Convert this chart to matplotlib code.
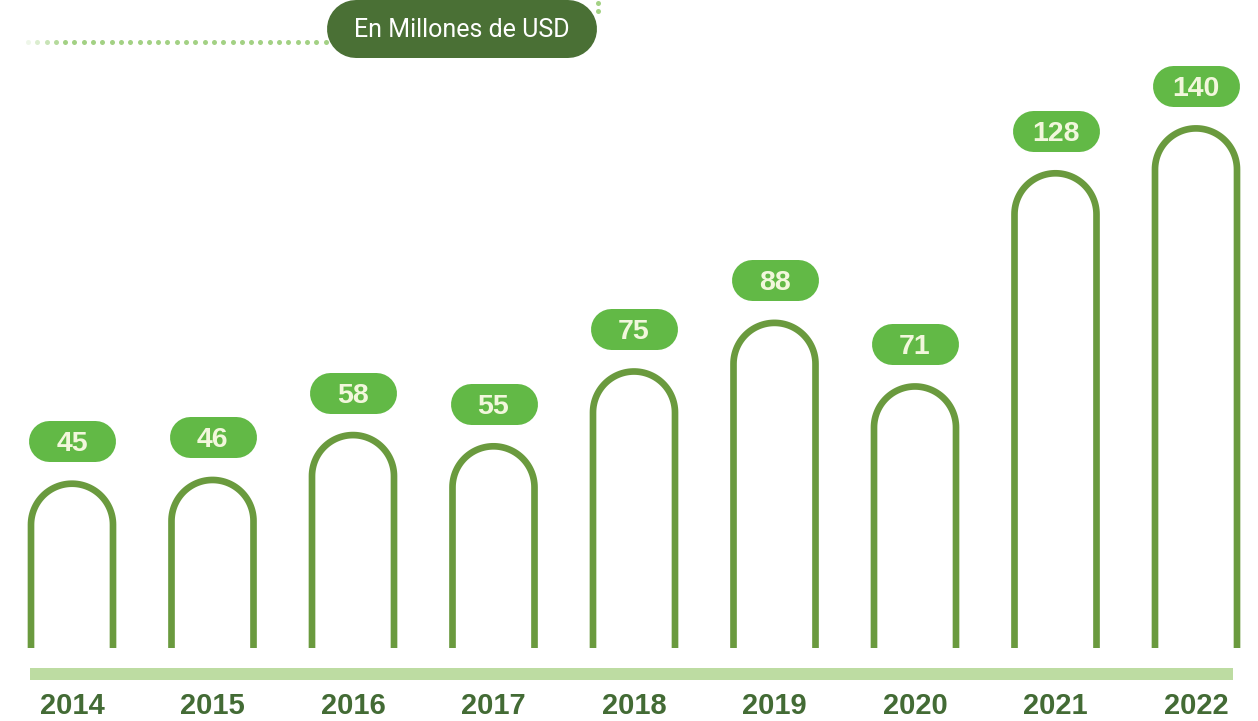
import matplotlib
matplotlib.use("Agg")
import matplotlib.pyplot as plt
import numpy as np

# datos
anios = ["2014", "2015", "2016", "2017", "2018", "2019", "2020", "2021", "2022"]
valores = [45, 46, 58, 55, 75, 88, 71, 128, 140]
titulo = "En Millones de USD"

# colores
verde_arco = "#6a9a3e"
verde_pill = "#62b946"
verde_base = "#bddca2"
verde_oscuro = "#4a7035"
verde_texto = "#436b35"
crema = "#f2f7dc"

W, H = 1258, 721
fig = plt.figure(figsize=(W / 100, H / 100), dpi=100)

# escala: pixeles por unidad
px_x = 140.5      # separacion entre arcos
px_y = 3.74       # pixeles por millon
x0_px = 72.0      # centro del primer arco
y0_px = 652.0     # cero de la escala

ax = fig.add_axes([0, 0, 1, 1])
ax.set_xlim(-x0_px / px_x, (W - x0_px) / px_x)
ax.set_ylim(-(H - y0_px) / px_y, y0_px / px_y)
ax.axis("off")

rx = 41.0 / px_x
ry = 41.0 / px_y
pie = 4.0 / px_y   # las patas terminan un poco sobre el cero

for i, v in enumerate(valores):
    # arco: dos lineas verticales con semicirculo arriba
    t = np.linspace(np.pi, 0, 60)
    xs = np.concatenate([[i - rx], i + rx * np.cos(t), [i + rx]])
    ys = np.concatenate([[pie], (v - ry) + ry * np.sin(t), [pie]])
    ax.plot(xs, ys, color=verde_arco, lw=4.8, solid_capstyle="butt",
            solid_joinstyle="round")

    # etiqueta con forma de pastilla
    yc = v + 42.5 / px_y
    ax.plot([i - 23 / px_x, i + 23 / px_x], [yc, yc], color=verde_pill,
            lw=41 * 0.72, solid_capstyle="round")
    ax.text(i, yc, str(v), ha="center", va="center_baseline", fontsize=20.5,
            fontweight="bold", color=crema, family="Liberation Sans")

    # anio
    ax.text(i, -(706 - y0_px) / px_y, anios[i], ha="center", va="center",
            fontsize=21, fontweight="bold", color=verde_texto,
            family="Liberation Sans")

# linea base
yb = -(674 - y0_px) / px_y
ax.plot([(30 - x0_px) / px_x, (1233 - x0_px) / px_x], [yb, yb],
        color=verde_base, lw=12 * 0.72, solid_capstyle="butt")

# decoracion superior en pixeles
deco = fig.add_axes([0, 0, 1, 1])
deco.set_xlim(0, W)
deco.set_ylim(H, 0)
deco.axis("off")
deco.patch.set_alpha(0)

xd = np.arange(28, 328, 9.3)
alphas = np.clip((xd - 20) / 45, 0.15, 1.0)
for xx, aa in zip(xd, alphas):
    deco.plot(xx, 42, "o", ms=3.6, color="#a3d184", alpha=aa, mec="none")
for yy in [3, 11]:
    deco.plot(598, yy, "o", ms=3.6, color="#a3d184", mec="none")

deco.plot([356, 568], [29, 29], color=verde_oscuro, lw=58 * 0.72,
          solid_capstyle="round")
deco.text(462, 30, titulo, ha="center", va="center", fontsize=18,
          color="white", family="Roboto")

fig.savefig("out.png", dpi=100)
